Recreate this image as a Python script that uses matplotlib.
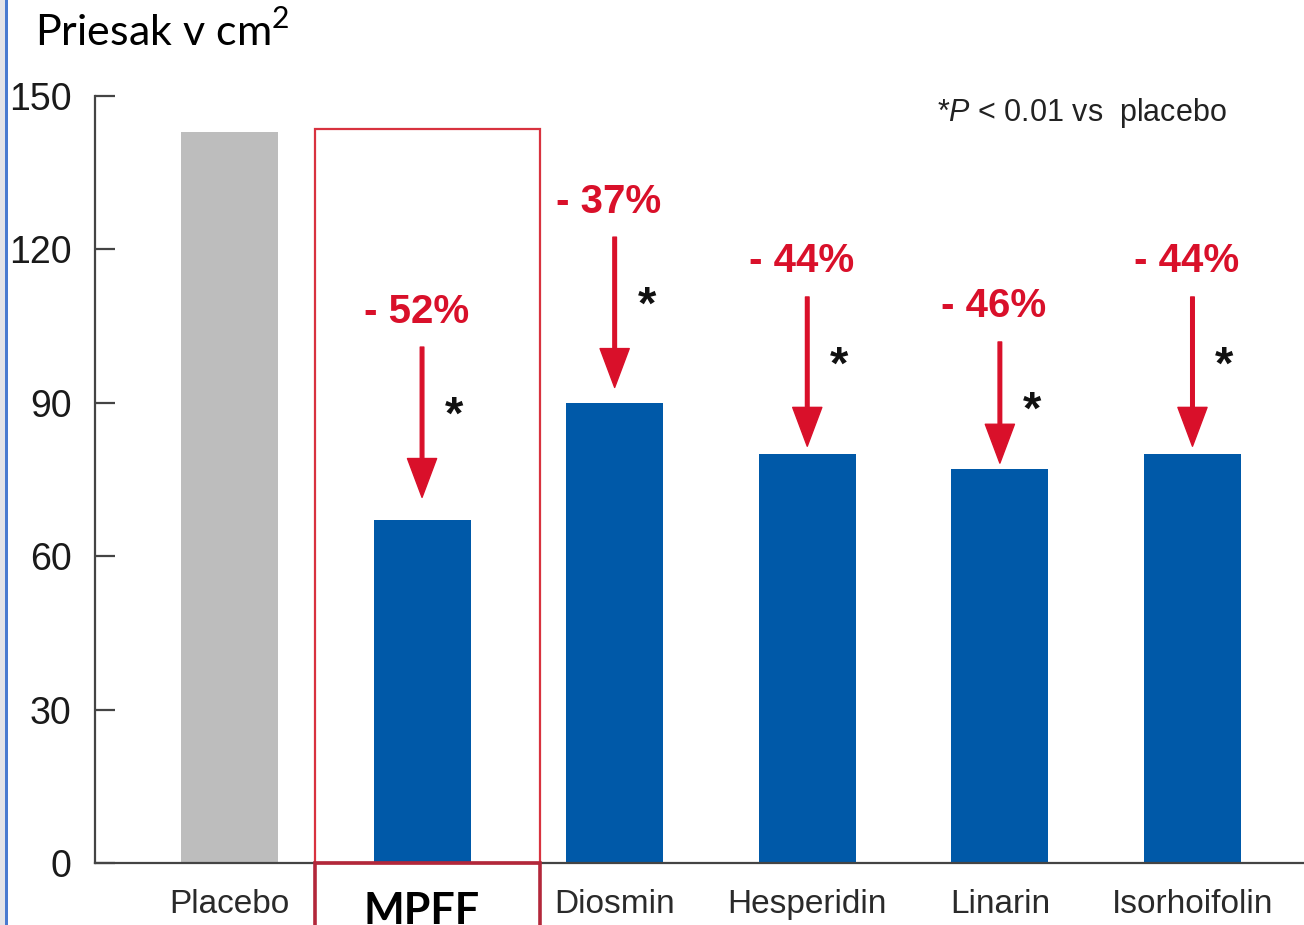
import matplotlib
matplotlib.use("Agg")
import matplotlib.pyplot as plt
from matplotlib.patches import Rectangle
import matplotlib.transforms as mtransforms

# Lesion area (cm2) per treatment group
groups = ['Placebo', 'MPFF', 'Diosmin', 'Hesperidin', 'Linarin', 'Isorhoifolin']
area = [143, 67, 90, 80, 77, 80]
reduction = ['', '- 52%', '- 37%', '- 44%', '- 46%', '- 44%']

# arrow geometry above each treated bar (data units)
arrow_top = [None, 100.9, 122.4, 110.7, 101.9, 110.7]
arrow_gap = [None, 4.5, 3.0, 1.5, 1.2, 1.5]

plt.rcParams['mathtext.fontset'] = 'custom'
plt.rcParams['mathtext.rm'] = 'Lato'
plt.rcParams['mathtext.it'] = 'Liberation Sans:italic'

W, H = 1304, 925
fig = plt.figure(figsize=(W / 100, H / 100), dpi=100)
ax = fig.add_axes([95 / W, (H - 863) / H, (W - 95) / W, (863 - 96) / H])

blue = '#0059a8'
red = '#d9102a'
colors = ['#bdbdbd'] + [blue] * 5
x = list(range(len(groups)))
ax.bar(x, area, width=0.504, color=colors, zorder=2)

ax.set_xlim(-0.698, 5.579)
ax.set_ylim(0, 150)
ax.set_yticks([0, 30, 60, 90, 120, 150])
for s in ['top', 'right']:
    ax.spines[s].set_visible(False)
for s in ['left', 'bottom']:
    ax.spines[s].set_color('#444444')
    ax.spines[s].set_linewidth(1.6)
ax.tick_params(axis='y', direction='in', length=14.5, width=1.6, color='#444444',
               pad=17, labelsize=27, labelcolor='#1a1a1a')
for t in ax.get_yticklabels():
    t.set_fontfamily('Liberation Sans')
ax.set_xticks(x)
ax.set_xticklabels(['' if g == 'MPFF' else g for g in groups],
                   fontfamily='Liberation Sans', fontsize=24, color='#2a2a2a')
ax.tick_params(axis='x', length=0, pad=19)

# MPFF label, bold and partly cut by the lower edge
trans = mtransforms.blended_transform_factory(ax.transData, ax.transAxes)
ax.text(1.0, -0.037, 'MPFF', transform=trans, ha='center', va='top',
        fontfamily='Lato', fontweight='bold', fontsize=31, color='black',
        clip_on=False)

# highlight frame around MPFF
ax.add_patch(Rectangle((0.444, 0), 1.168, 143.6, fill=False, edgecolor='#d8323f',
                       linewidth=1.6, zorder=3, clip_on=False))
ax.add_patch(Rectangle((0.444, -0.1), 1.168, 0.1, transform=trans, fill=False,
                       edgecolor='#b3273a', linewidth=2.6, zorder=3, clip_on=False))

# reduction arrows, percentages and significance stars
for i in x:
    if not reduction[i]:
        continue
    top = arrow_top[i]
    ax.annotate('', xy=(i, area[i] + arrow_gap[i]), xytext=(i, top),
                arrowprops=dict(facecolor=red, edgecolor=red, width=2.6,
                                headwidth=21, headlength=28, shrink=0),
                zorder=4)
    ax.text(i - 0.03, top + 4.8, reduction[i], ha='center', va='baseline',
            fontfamily='Liberation Sans', fontweight='bold', fontsize=29,
            color=red)
    ax.text(i + 0.166, top - 15.9, '*', ha='center', va='baseline',
            fontfamily='Liberation Sans', fontweight='bold', fontsize=34,
            color='#111111')

ax.text(937 / W, (H - 121) / H, '*$P$ < 0.01 vs  placebo', transform=fig.transFigure,
        ha='left', va='baseline', fontfamily='Liberation Sans', fontsize=22,
        color='#222222')

fig.text(35 / W, (H - 46) / H, 'Priesak v cm$^2$', ha='left', va='baseline',
         fontfamily='Lato', fontsize=31, color='black')

# slide edge on the left
fig.patches.append(Rectangle((0, 0), 5 / W, 1, transform=fig.transFigure,
                             facecolor='#e4e4e8', edgecolor='none'))
fig.patches.append(Rectangle((5 / W, 0), 3 / W, 1, transform=fig.transFigure,
                             facecolor='#4a7bd0', edgecolor='none'))

fig.savefig('out.png', dpi=100)
